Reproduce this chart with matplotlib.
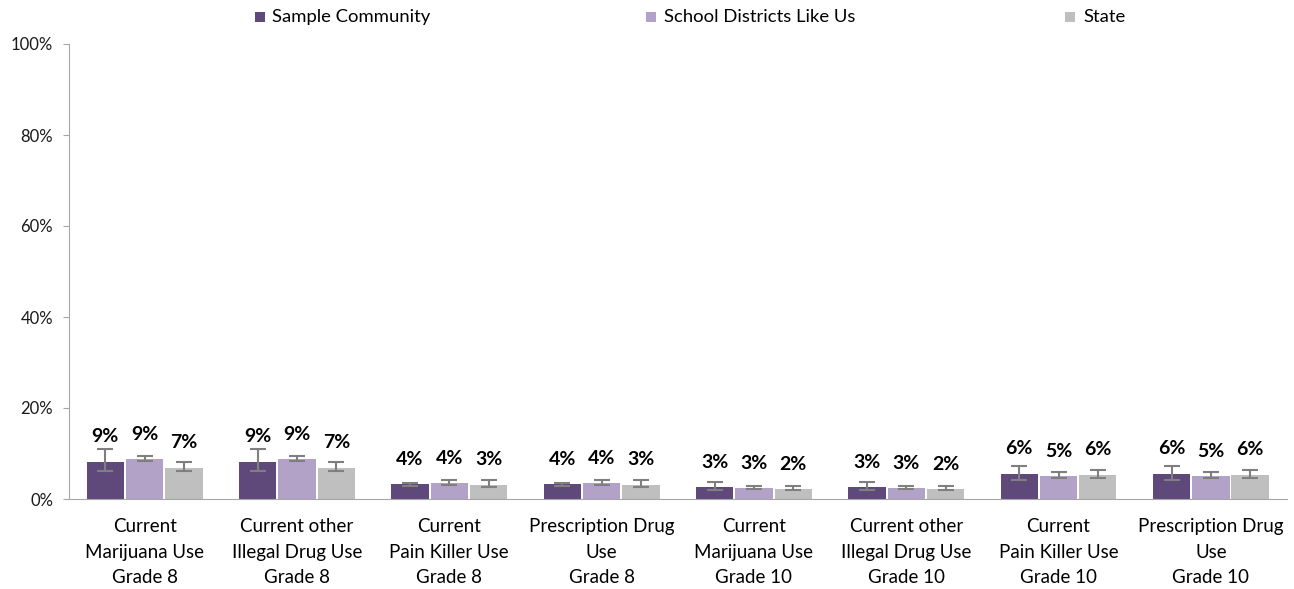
import matplotlib
matplotlib.use("Agg")
import matplotlib.pyplot as plt
import numpy as np
from matplotlib.patches import Rectangle

plt.rcParams['font.family'] = ['Lato', 'DejaVu Sans']

categories = ["Current\nMarijuana Use\nGrade 8", "Current other\nIllegal Drug Use\nGrade 8",
              "Current\nPain Killer Use\nGrade 8", "Prescription Drug\nUse\nGrade 8",
              "Current\nMarijuana Use\nGrade 10", "Current other\nIllegal Drug Use\nGrade 10",
              "Current\nPain Killer Use\nGrade 10", "Prescription Drug\nUse\nGrade 10"]
series_names = ["Sample Community", "School Districts Like Us", "State"]

sample = [8.2, 8.2, 3.2, 3.2, 2.6, 2.6, 5.5, 5.5]
sample_lo = [6.1, 6.1, 2.9, 2.9, 2.0, 2.0, 4.2, 4.2]
sample_hi = [11.0, 11.0, 3.6, 3.6, 3.7, 3.7, 7.3, 7.3]
sample_lbl = ["9%", "9%", "4%", "4%", "3%", "3%", "6%", "6%"]

sdlu = [8.7, 8.7, 3.5, 3.5, 2.4, 2.4, 5.0, 5.0]
sdlu_lo = [8.4, 8.4, 3.1, 3.1, 2.3, 2.3, 4.6, 4.6]
sdlu_hi = [9.5, 9.5, 4.2, 4.2, 2.9, 2.9, 5.9, 5.9]
sdlu_lbl = ["9%", "9%", "4%", "4%", "3%", "3%", "5%", "5%"]

state = [6.9, 6.9, 3.1, 3.1, 2.1, 2.1, 5.3, 5.3]
state_lo = [6.1, 6.1, 2.6, 2.6, 2.0, 2.0, 4.7, 4.7]
state_hi = [8.2, 8.2, 4.2, 4.2, 2.8, 2.8, 6.4, 6.4]
state_lbl = ["7%", "7%", "3%", "3%", "2%", "2%", "6%", "6%"]

yticks = [0, 20, 40, 60, 80, 100]

colors = ["#5F497A", "#B3A2C7", "#BFBFBF"]
err_color = "#7F7F7F"

W, H = 1294, 589
fig = plt.figure(figsize=(W / 100, H / 100), dpi=100)
ax = fig.add_axes([68.5 / W, 1 - 499 / H, (1287 - 68.5) / W, (499 - 44) / H])

x = np.arange(len(categories))
step = 0.258
width = 0.245
data = [(sample, sample_lo, sample_hi, sample_lbl),
        (sdlu, sdlu_lo, sdlu_hi, sdlu_lbl),
        (state, state_lo, state_hi, state_lbl)]
for i, (vals, lo, hi, lbl) in enumerate(data):
    pos = x + (i - 1) * step
    v = np.array(vals)
    yerr = np.vstack([v - np.array(lo), np.array(hi) - v])
    ax.bar(pos, v, width, color=colors[i], label=series_names[i], zorder=2)
    ax.errorbar(pos, v, yerr=yerr, fmt='none', ecolor=err_color, elinewidth=1.5,
                capsize=6, capthick=1.5, zorder=3)
    for p, val, t in zip(pos, v, lbl):
        ax.annotate(t, (p, val), xytext=(0, 18), textcoords='offset points',
                    ha='center', va='center', fontsize=14, fontweight='bold', color='black')

ax.set_xlim(-0.5, len(categories) - 0.5)
ax.set_ylim(0, 100)
ax.set_yticks(yticks)
ax.set_yticklabels([f"{t}%" for t in yticks], fontsize=12, color='#1a1a1a')
ax.set_xticks(x)
ax.set_xticklabels(categories, fontsize=13.5, color='black', linespacing=1.6)
ax.tick_params(axis='x', length=0, pad=14)
ax.tick_params(axis='y', length=4, color='#A6A6A6', direction='out', pad=7)
for s in ['top', 'right']:
    ax.spines[s].set_visible(False)
ax.spines['left'].set_color('#A6A6A6')
ax.spines['bottom'].set_color('#A6A6A6')

# legend (manual, pixel coordinates)
sq_x = [255, 646, 1065]
txt_x = [272, 664, 1083]
for c, name, sx, tx in zip(colors, series_names, sq_x, txt_x):
    fig.add_artist(Rectangle((sx / W, 1 - 22 / H), 10 / W, 10 / H, transform=fig.transFigure,
                             facecolor=c, edgecolor='none'))
    fig.text(tx / W, 1 - 17 / H, name, ha='left', va='center', fontsize=13.3, color='black')

fig.savefig("out.png", dpi=100)
